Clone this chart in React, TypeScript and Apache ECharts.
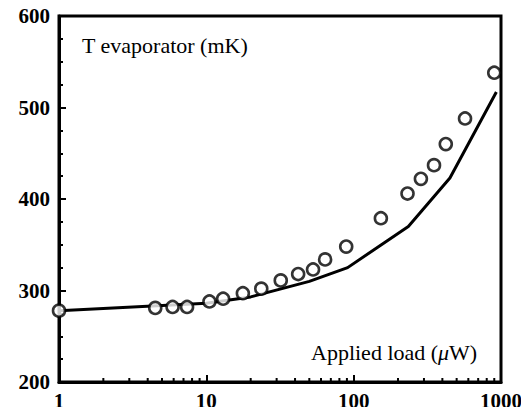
import React, { useEffect, useRef } from "react";
import * as echarts from "echarts";

// Measured points (circles): applied load (µW) vs T evaporator (mK)
const loadMeasured = [1, 4.5, 5.9, 7.4, 10.5, 13, 17.7, 23.6, 32, 42, 53, 64, 89, 153, 232, 286, 351, 422, 570, 900];
const tempMeasured = [278, 281, 282, 282, 288, 291, 297, 302, 311, 318, 323, 334, 348, 379, 406, 422, 437, 460, 488, 538];

// Model curve (solid line)
const loadModel = [1, 10, 20, 50, 91, 235, 450, 930];
const tempModel = [278, 286, 293, 310, 325, 370, 423, 517];

// Axis settings
const yTickValues = [200, 300, 400, 500, 600];
const xTickLabels = ["1", "10", "100", "1000"];
const xMinorTicks = [2, 3, 4, 5, 6, 7, 8, 9, 20, 30, 40, 50, 60, 70, 80, 90, 200, 300, 400, 500, 600, 700, 800, 900];

const SERIF = "'Liberation Serif', 'Times New Roman', serif";

export default function App() {
  const ref = useRef<HTMLDivElement>(null);

  useEffect(() => {
    if (!ref.current) return;
    const chart = echarts.init(ref.current, null, { renderer: "svg" });
    const yMin = yTickValues[0];
    const yMax = yTickValues[yTickValues.length - 1];
    chart.setOption({
      animation: false,
      backgroundColor: "#ffffff",
      grid: {
        left: 59,
        right: 28,
        top: 16,
        bottom: 33,
        show: true,
        borderColor: "#000",
        borderWidth: 3,
        backgroundColor: "transparent",
      },
      xAxis: {
        type: "log",
        logBase: 10,
        min: 1,
        max: 1000,
        axisLine: { show: true, onZero: false, lineStyle: { color: "#000", width: 3 } },
        axisTick: { show: true, inside: true, length: 7, lineStyle: { color: "#000", width: 2 } },
        splitLine: { show: false },
        axisLabel: {
          color: "#000",
          fontFamily: SERIF,
          fontWeight: "bold",
          fontSize: 21,
          margin: 8,
          formatter: (v: number) => {
            const idx = Math.round(Math.log10(v));
            return xTickLabels[idx] ?? String(v);
          },
        },
      },
      yAxis: {
        type: "value",
        min: yMin,
        max: yMax,
        interval: 100,
        axisLine: { show: true, lineStyle: { color: "#000", width: 3 } },
        axisTick: { show: true, inside: true, length: 7, lineStyle: { color: "#000", width: 2 } },
        minorTick: { show: true, splitNumber: 4, length: 4, lineStyle: { color: "#000", width: 2 } },
        splitLine: { show: false },
        minorSplitLine: { show: false },
        axisLabel: {
          color: "#000",
          fontFamily: SERIF,
          fontWeight: "bold",
          fontSize: 21,
          margin: 9,
        },
      },
      series: [
        {
          type: "line",
          data: loadModel.map((x, i) => [x, tempModel[i]]),
          showSymbol: false,
          symbol: "none",
          lineStyle: { color: "#000", width: 3 },
          z: 3,
        },
        {
          type: "scatter",
          data: loadMeasured.map((x, i) => [x, tempMeasured[i]]),
          symbol: "circle",
          symbolSize: 12,
          itemStyle: { color: "#fff", borderColor: "#000", borderWidth: 2.6 },
          clip: false,
          z: 4,
        },
        {
          type: "custom",
          data: xMinorTicks.map((v) => [v, yMin]),
          renderItem: (params: any, api: any) => {
            const p = api.coord([api.value(0), api.value(1)]);
            return {
              type: "line",
              shape: { x1: p[0], y1: p[1], x2: p[0], y2: p[1] - 4 },
              style: { stroke: "#000", lineWidth: 2 },
            };
          },
          silent: true,
          z: 2,
        },
      ],
      graphic: [
        {
          type: "text",
          left: 82,
          top: 34,
          style: {
            text: "T evaporator (mK)",
            fill: "#000",
            font: `22px ${SERIF}`,
          },
        },
        {
          type: "text",
          left: 311,
          top: 341,
          style: {
            text: "Applied load ({i|μ}W)",
            fill: "#000",
            font: `22px ${SERIF}`,
            rich: {
              i: { fontFamily: SERIF, fontStyle: "italic", fontSize: 22, fill: "#000" },
            },
          },
        },
      ],
    });
    return () => chart.dispose();
  }, []);

  return <div ref={ref} style={{ width: 529, height: 415, margin: -8 }} />;
}
